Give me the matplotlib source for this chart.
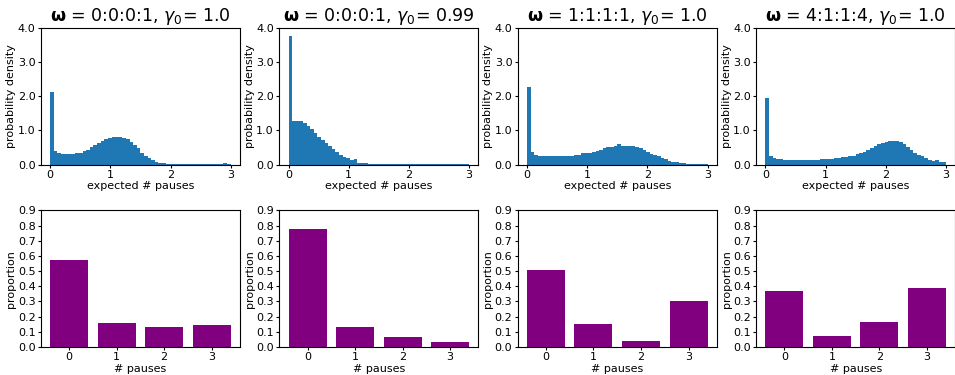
import matplotlib
matplotlib.use("Agg")
import matplotlib.pyplot as plt
import numpy as np

# histogram bin edges: 50 bins over [0, 3]
edges = np.linspace(0, 3, 51)

dens_a = [2.12, 0.41, 0.35, 0.32, 0.32, 0.32, 0.32, 0.35, 0.35, 0.41,
          0.44, 0.50, 0.56, 0.62, 0.68, 0.74, 0.79, 0.82, 0.82, 0.82,
          0.79, 0.74, 0.65, 0.56, 0.47, 0.35, 0.26, 0.18, 0.12, 0.07,
          0.04, 0.04, 0.01, 0.01, 0.01, 0.01, 0.01, 0.01, 0.01, 0.01,
          0.01, 0.01, 0.01, 0.01, 0.01, 0.01, 0.01, 0.01, 0.04, 0.01]
dens_b = [3.78, 1.28, 1.28, 1.28, 1.22, 1.13, 1.03, 0.92, 0.80, 0.72,
          0.62, 0.53, 0.45, 0.36, 0.28, 0.23, 0.18, 0.12, 0.16, 0.05,
          0.04, 0.03, 0.01, 0.01, 0.01, 0.01, 0.01, 0.01, 0.01, 0.01,
          0.01, 0.01, 0.01, 0.01, 0.01, 0.01, 0.01, 0.01, 0.01, 0.01,
          0.01, 0.01, 0.01, 0.01, 0.01, 0.01, 0.01, 0.01, 0.01, 0.01]
dens_c = [2.27, 0.38, 0.29, 0.24, 0.24, 0.24, 0.24, 0.24, 0.24, 0.24,
          0.24, 0.26, 0.26, 0.29, 0.29, 0.33, 0.35, 0.35, 0.38, 0.41,
          0.44, 0.47, 0.50, 0.50, 0.53, 0.59, 0.53, 0.53, 0.53, 0.53,
          0.50, 0.47, 0.44, 0.38, 0.32, 0.29, 0.24, 0.18, 0.15, 0.10,
          0.07, 0.06, 0.03, 0.03, 0.01, 0.01, 0.01, 0.01, 0.01, 0.01]
dens_d = [1.95, 0.26, 0.18, 0.15, 0.15, 0.12, 0.12, 0.12, 0.12, 0.12,
          0.12, 0.12, 0.12, 0.12, 0.12, 0.15, 0.15, 0.15, 0.15, 0.18,
          0.18, 0.21, 0.21, 0.24, 0.26, 0.32, 0.35, 0.38, 0.44, 0.47,
          0.53, 0.59, 0.62, 0.65, 0.68, 0.68, 0.68, 0.65, 0.59, 0.50,
          0.44, 0.35, 0.29, 0.24, 0.18, 0.12, 0.09, 0.12, 0.06, 0.06]

pauses = [0, 1, 2, 3]
prop_a = [0.575, 0.155, 0.128, 0.142]
prop_b = [0.780, 0.128, 0.063, 0.030]
prop_c = [0.508, 0.148, 0.042, 0.300]
prop_d = [0.368, 0.075, 0.162, 0.388]

titles = [r"$\mathbf{\omega}$ = 0:0:0:1, $\gamma_0$= 1.0",
          r"$\mathbf{\omega}$ = 0:0:0:1, $\gamma_0$= 0.99",
          r"$\mathbf{\omega}$ = 1:1:1:1, $\gamma_0$= 1.0",
          r"$\mathbf{\omega}$ = 4:1:1:4, $\gamma_0$= 1.0"]

plt.rcParams.update({'font.size': 8})

fig, axes = plt.subplots(2, 4, figsize=(9.55, 3.75), dpi=100)
fig.subplots_adjust(left=0.043, right=1.0, top=0.925, bottom=0.075,
                    wspace=0.2, hspace=0.337)

for i, (dens, prop) in enumerate(zip([dens_a, dens_b, dens_c, dens_d],
                                     [prop_a, prop_b, prop_c, prop_d])):
    ax = axes[0, i]
    ax.hist(edges[:-1], bins=edges, weights=dens, color='#1f77b4')
    ax.set_ylim(0, 4)
    ax.set_yticks([0, 1, 2, 3, 4])
    ax.set_yticklabels(['0.0', '1.0', '2.0', '3.0', '4.0'])
    ax.set_xticks([0, 1, 2, 3])
    ax.set_xlabel("expected # pauses", labelpad=1)
    ax.set_ylabel("probability density", labelpad=1)
    ax.set_title(titles[i], fontsize=12.5, pad=5)
    ax.tick_params(length=2.5, pad=1.5)

    ax = axes[1, i]
    ax.bar(pauses, prop, color='purple')
    ax.set_ylim(0, 0.9)
    ax.set_yticks(np.arange(0, 0.91, 0.1))
    ax.set_xticks(pauses)
    ax.set_xlabel("# pauses", labelpad=1)
    ax.set_ylabel("proportion", labelpad=1)
    ax.tick_params(length=2.5, pad=1.5)

fig.savefig("out.png", dpi=100)
